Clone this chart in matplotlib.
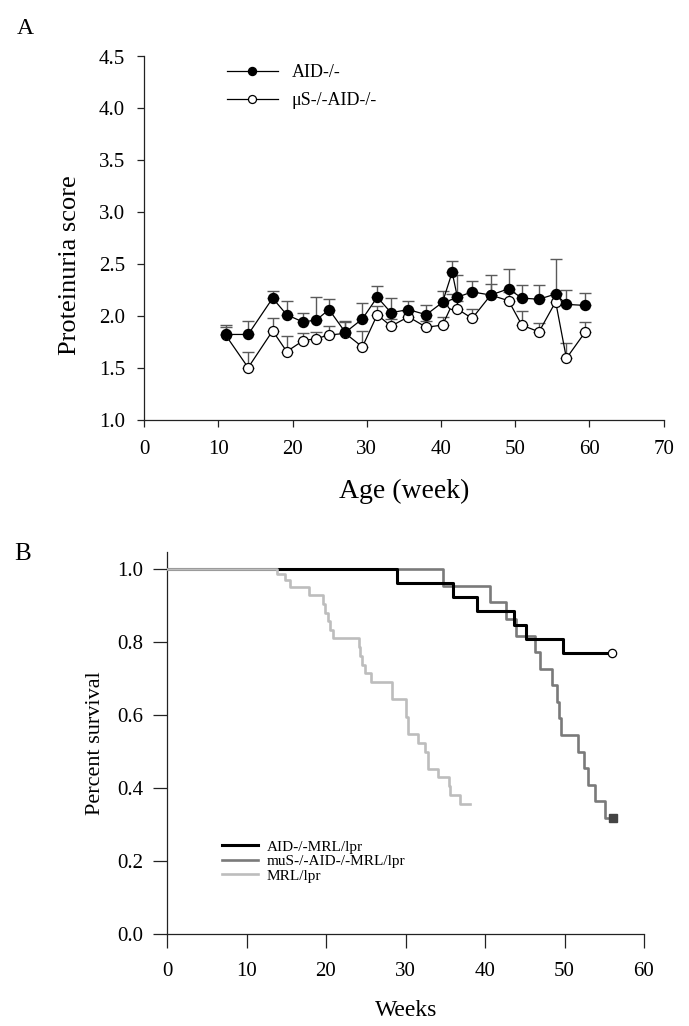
import numpy as np
import matplotlib
matplotlib.use("Agg")
import matplotlib.pyplot as plt

plt.rcParams['font.family'] = ['Liberation Serif', 'DejaVu Serif']

# ---- panel A data: proteinuria score (mean, upper SEM) ----
weeks = [11.0, 14.0, 17.3, 19.2, 21.4, 23.2, 24.9, 27.1, 29.4, 31.4, 33.25, 35.6,
         38.0, 40.2, 41.5, 42.2, 44.2, 46.7, 49.1, 50.9, 53.2, 55.45, 56.9, 59.4]
aid = [1.82, 1.82, 2.17, 2.01, 1.94, 1.96, 2.06, 1.84, 1.97, 2.18, 2.03, 2.06,
       2.01, 2.13, 2.42, 2.18, 2.23, 2.20, 2.26, 2.17, 2.16, 2.21, 2.11, 2.10]
aid_err = [0.09, 0.13, 0.07, 0.13, 0.09, 0.22, 0.10, 0.11, 0.15, 0.11, 0.14, 0.08,
           0.09, 0.11, 0.11, 0.21, 0.11, 0.11, 0.19, 0.13, 0.14, 0.34, 0.14, 0.12]
mus = [1.81, 1.50, 1.855, 1.655, 1.76, 1.78, 1.815, 1.83, 1.70, 2.01, 1.90, 1.99,
       1.89, 1.91, 2.11, 2.065, 1.975, 2.20, 2.145, 1.91, 1.845, 2.135, 1.59, 1.84]
mus_err = [0.08, 0.15, 0.12, 0.15, 0.07, 0.06, 0.09, 0.11, 0.15, 0.08, 0.07, 0.06,
           0.06, 0.08, 0.10, 0.08, 0.09, 0.19, 0.08, 0.14, 0.09, 0.08, 0.15, 0.10]

# ---- panel B data: Kaplan-Meier steps (time of step, survival after step) ----
aid_t = [0, 28.9, 36.0, 39.0, 43.65, 45.1, 49.8, 56.0]
aid_s = [1.0, 0.962, 0.923, 0.885, 0.846, 0.808, 0.769, 0.769]
mus_t = [0, 34.76, 40.6, 42.7, 43.9, 46.3, 46.9, 48.4, 49.0, 49.3, 49.6,
         51.7, 52.4, 53.0, 53.8, 55.1, 56.1]
mus_s = [1.0, 0.955, 0.909, 0.864, 0.818, 0.773, 0.727, 0.682, 0.636, 0.591, 0.545,
         0.500, 0.455, 0.409, 0.364, 0.318, 0.318]
mrl_t = [0, 13.8, 14.84, 15.47, 17.8, 19.66, 19.9, 20.2, 20.5, 20.9,
         24.15, 24.3, 24.5, 24.9, 25.6, 28.26, 30.06, 30.3, 31.6, 32.45,
         32.87, 34.1, 35.5, 35.6, 36.85, 38.1]
mrl_s = [1.0, 0.988, 0.970, 0.952, 0.929, 0.905, 0.881, 0.857, 0.833, 0.810,
         0.786, 0.762, 0.738, 0.714, 0.690, 0.643, 0.595, 0.548, 0.524, 0.500,
         0.452, 0.429, 0.405, 0.381, 0.357, 0.357]

W, H = 689, 1026
fig = plt.figure(figsize=(W / 100, H / 100), dpi=100)


def px(x, y):
    # pixel position (from top-left) -> figure fraction
    return x / W, 1 - y / H


def add_axes_px(x0, y_top, x1, y_bot):
    return fig.add_axes([x0 / W, 1 - y_bot / H, (x1 - x0) / W, (y_bot - y_top) / H])


def style(ax, tick_len, xpad, ypad):
    for s in ['top', 'right']:
        ax.spines[s].set_visible(False)
    for s in ['left', 'bottom']:
        ax.spines[s].set_linewidth(0.9)
        ax.spines[s].set_color('#222222')
    ax.tick_params(direction='out', length=tick_len, width=0.9, labelsize=15,
                   color='#222222')
    ax.tick_params(axis='x', pad=xpad)
    ax.tick_params(axis='y', pad=ypad)


# ================= panel A =================
axA = add_axes_px(144.3, 56.5, 663.6, 419.5)
zeros = np.zeros(len(weeks))
axA.errorbar(weeks, aid, yerr=[zeros, aid_err], fmt='none', ecolor='#5a5a5a',
             elinewidth=1.0, capsize=4, capthick=1.0, zorder=1)
axA.errorbar(weeks, mus, yerr=[zeros, mus_err], fmt='none', ecolor='#5a5a5a',
             elinewidth=1.0, capsize=4, capthick=1.0, zorder=1)
axA.plot(weeks, mus, '-o', color='black', lw=0.9, ms=7.2, mfc='white',
         mec='black', mew=0.9, label='\u03bcS-/-AID-/-', zorder=3)
axA.plot(weeks, aid, '-o', color='black', lw=0.9, ms=7.2, mfc='black',
         mec='black', label='AID-/-', zorder=4)
axA.set_xlim(0, 70)
axA.set_ylim(1.0, 4.5)
axA.set_xticks(np.arange(0, 71, 10))
yt = np.arange(1.0, 4.51, 0.5)
axA.set_yticks(yt)
axA.set_yticklabels(['%.1f' % v for v in yt])
style(axA, 5, 10, 9)
h, l = axA.get_legend_handles_labels()
axA.legend(h[::-1], l[::-1], loc='upper left', bbox_to_anchor=px(226.7, 64),
           bbox_transform=fig.transFigure, frameon=False, fontsize=13,
           handlelength=2.85, handletextpad=0.75, labelspacing=0.6,
           borderpad=0, borderaxespad=0, markerscale=0.8)
fig.text(*px(404, 491), 'Age (week)', fontsize=20, ha='center', va='center')
fig.text(*px(70, 265), 'Proteinuria score', fontsize=19, ha='center',
         va='center', rotation=90)
fig.text(*px(25, 28), 'A', fontsize=17, va='center', ha='center')

# ================= panel B =================
axB = add_axes_px(167, 552, 644, 934)
axB.step(aid_t, aid_s, where='post', color='black', lw=2.2,
         label='AID-/-MRL/lpr', zorder=3)
axB.step(mus_t, mus_s, where='post', color='#7a7a7a', lw=1.9,
         label='muS-/-AID-/-MRL/lpr', zorder=2)
axB.step(mrl_t, mrl_s, where='post', color='#bdbdbd', lw=1.9,
         label='MRL/lpr', zorder=4)
axB.plot(aid_t[-1], aid_s[-1], 'o', ms=6, mfc='white', mec='black', mew=0.9, zorder=5)
axB.plot(mus_t[-1], mus_s[-1], 's', ms=5.5, mfc='#444444', mec='#444444', zorder=5)
axB.set_xlim(0, 60)
axB.set_ylim(0, 1.047)
axB.set_xticks(np.arange(0, 61, 10))
ytb = np.arange(0, 1.01, 0.2)
axB.set_yticks(ytb)
axB.set_yticklabels(['%.1f' % v for v in ytb])
style(axB, 10, 10, 7.2)
axB.legend(loc='upper left', bbox_to_anchor=px(221.7, 840),
           bbox_transform=fig.transFigure, frameon=False, fontsize=11,
           handlelength=2.4, handletextpad=0.55, labelspacing=0.05,
           borderpad=0, borderaxespad=0)
fig.text(*px(406, 1011), 'Weeks', fontsize=17, ha='center', va='center')
fig.text(*px(95, 743), 'Percent survival', fontsize=16, ha='center',
         va='center', rotation=90)
fig.text(*px(23, 554), 'B', fontsize=18, va='center', ha='center')

fig.savefig('out.png', dpi=100)
